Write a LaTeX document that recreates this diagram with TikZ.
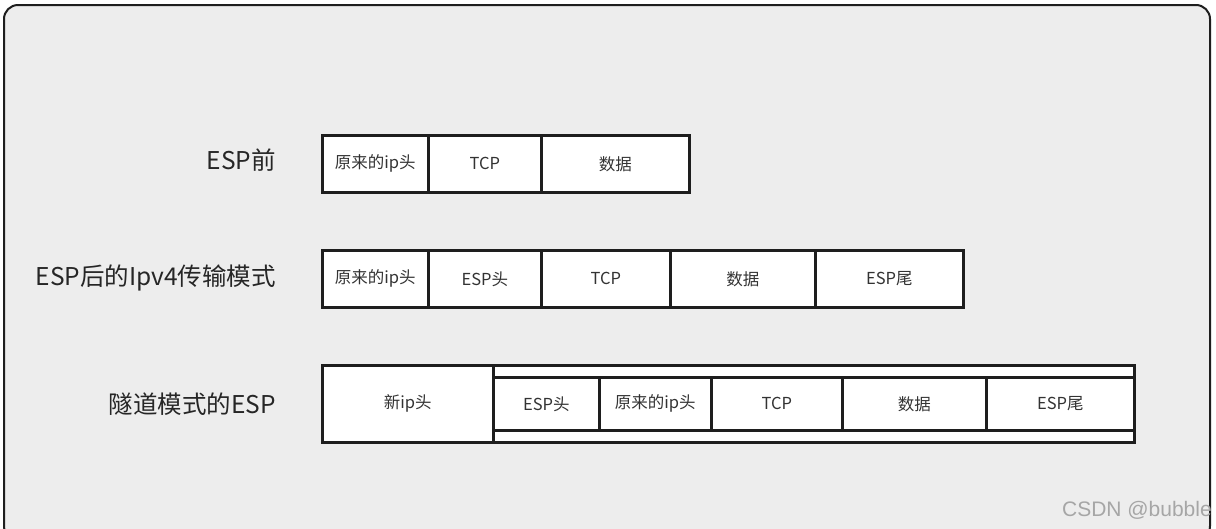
\documentclass[tikz,border=0pt]{standalone}
\usepackage{fontspec}
\setmainfont{Noto Sans CJK SC}
\newfontfamily\wmfont{Liberation Sans}
\definecolor{bg}{HTML}{EDEDED}
\definecolor{ln}{HTML}{1E1E1E}
\begin{document}
\begin{tikzpicture}[x=1pt,y=-1pt,
  cell/.style={draw=ln,line width=2.6pt,fill=white,inner sep=0pt,font=\fontsize{16.5}{16.5}\selectfont,text=black!80},
  lbl/.style={anchor=east,inner sep=0pt,font=\fontsize{24.5}{24.5}\selectfont,text=black!85}]
\useasboundingbox (0,0) rectangle (1216,528);
\fill[white] (0,0) rectangle (1216,528);
\draw[ln,line width=2pt,fill=bg,rounded corners=14pt] (4,5) -- (1210,5) -- (1210,540) -- (4,540) -- cycle;
% labels
\node[lbl] (l1) at (276,160) {ESP前};
\node[lbl] (l2) at (276,278) {ESP后的Ipv4传输模式};
\node[lbl] (l3) at (276,404) {隧道模式的ESP};
% row 1
\def\cellbox#1#2#3#4#5#6{\node[cell,minimum width=#4-#3,minimum height=#6-#5,anchor=north west] (#1) at (#3,#5) {#2};}
\cellbox{a1}{原来的ip头}{321}{427}{134}{191}
\cellbox{a2}{TCP}{427}{540}{134}{191}
\cellbox{a3}{数据}{540}{688}{134}{191}
% row 2
\cellbox{b1}{原来的ip头}{321}{427}{249}{306}
\cellbox{b2}{ESP头}{427}{540}{249}{306}
\cellbox{b3}{TCP}{540}{669}{249}{306}
\cellbox{b4}{数据}{669}{814}{249}{306}
\cellbox{b5}{ESP尾}{814}{962}{249}{306}
% row 3
\cellbox{c0}{新ip头}{321}{492}{364}{441}
\cellbox{cout}{}{492}{1133}{364}{441}
\cellbox{c1}{ESP头}{492}{598}{376}{429}
\cellbox{c2}{原来的ip头}{598}{710}{376}{429}
\cellbox{c3}{TCP}{710}{841}{376}{429}
\cellbox{c4}{数据}{841}{985}{376}{429}
\cellbox{c5}{ESP尾}{985}{1133}{376}{429}
% watermark
\node[anchor=east,inner sep=0pt,font=\wmfont\fontsize{21}{21}\selectfont,text=black!35] (wm) at (1212,510) {CSDN @bubble};
\end{tikzpicture}
\end{document}
